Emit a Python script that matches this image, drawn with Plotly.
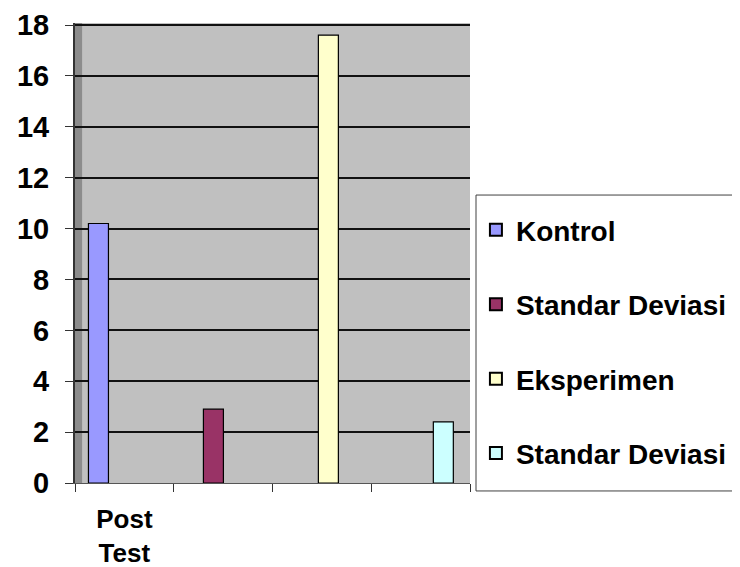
import plotly.graph_objects as go

categories = ["Post Test"]
series_names = ["Kontrol", "Standar Deviasi", "Eksperimen", "Standar Deviasi"]
series_values = [[10.2], [2.9], [17.6], [2.4]]
series_colors = ["#9999FF", "#993366", "#FFFFCC", "#CCFFFF"]
y_ticks = [0, 2, 4, 6, 8, 10, 12, 14, 16, 18]

FONT = "Liberation Sans, Arial, sans-serif"

fig = go.Figure()
for i, (name, vals, col) in enumerate(zip(series_names, series_values, series_colors)):
    fig.add_trace(go.Bar(
        x=categories, y=vals, name=name,
        marker=dict(color=col, line=dict(color="#000000", width=1.2)),
        legendgroup=f"g{i}",
    ))

fig.update_layout(
    width=740, height=567,
    margin=dict(l=67, r=278, t=15, b=92, autoexpand=False),
    paper_bgcolor="white",
    plot_bgcolor="#C0C0C0",
    barmode="group", bargap=0.0, bargroupgap=0.826,
    font=dict(family=FONT, size=26, color="black"),
    showlegend=True,
    legend=dict(
        x=1.015, xanchor="left", y=0.604, yanchor="top",
        bgcolor="rgba(0,0,0,0)", borderwidth=0,
        font=dict(family=FONT, size=28, color="black", weight="bold"),
        traceorder="grouped", tracegroupgap=35,
        itemsizing="constant", itemwidth=30,
    ),
    xaxis=dict(
        range=[-0.426, 0.433], showticklabels=False, showgrid=False,
        zeroline=False, showline=False, ticks="", automargin=False,
    ),
    xaxis2=dict(
        overlaying="x", side="bottom", range=[0, 4],
        tickmode="array", tickvals=[0.5], ticktext=["Post<br>Test"],
        ticks="", showgrid=False, zeroline=False, automargin=False,
        ticklabelstandoff=13, ticklabeloverflow="allow",
        showline=True, linecolor="#555555", linewidth=1,
        tickfont=dict(family=FONT, size=26, color="black", weight="bold"),
        minor=dict(tickmode="linear", tick0=0, dtick=1, ticks="outside",
                   ticklen=8, tickcolor="#333333", tickwidth=1, showgrid=False),
    ),
    yaxis=dict(
        range=[0, 18.08], tickmode="array", tickvals=y_ticks,
        showgrid=True, gridcolor="#111111", gridwidth=2,
        zeroline=False, showline=True, linecolor="#333333", linewidth=2,
        ticks="outside", ticklen=8, tickcolor="#333333", automargin=False,
        ticklabelstandoff=10, ticklabeloverflow="allow",
        tickfont=dict(family=FONT, size=29, color="black", weight="bold"),
    ),
)

# invisible helper trace so the overlay axis is drawn
fig.add_trace(go.Scatter(x=[0, 4], y=[0, 0], xaxis="x2", mode="lines",
                         line=dict(width=0), showlegend=False, hoverinfo="skip"))

# left side wall shading of the 3D chart
fig.add_shape(type="rect", xref="paper", yref="paper", x0=0, x1=0.018, y0=0, y1=1,
              fillcolor="#8C8C8C", line=dict(width=0), layer="below")

# legend frame
fig.add_shape(type="rect", xref="paper", yref="paper", x0=1.0152, x1=1.678,
              y0=-0.0173, y1=0.626, fillcolor="white",
              line=dict(color="#404040", width=1), layer="below")

fig.write_html("out.html")
